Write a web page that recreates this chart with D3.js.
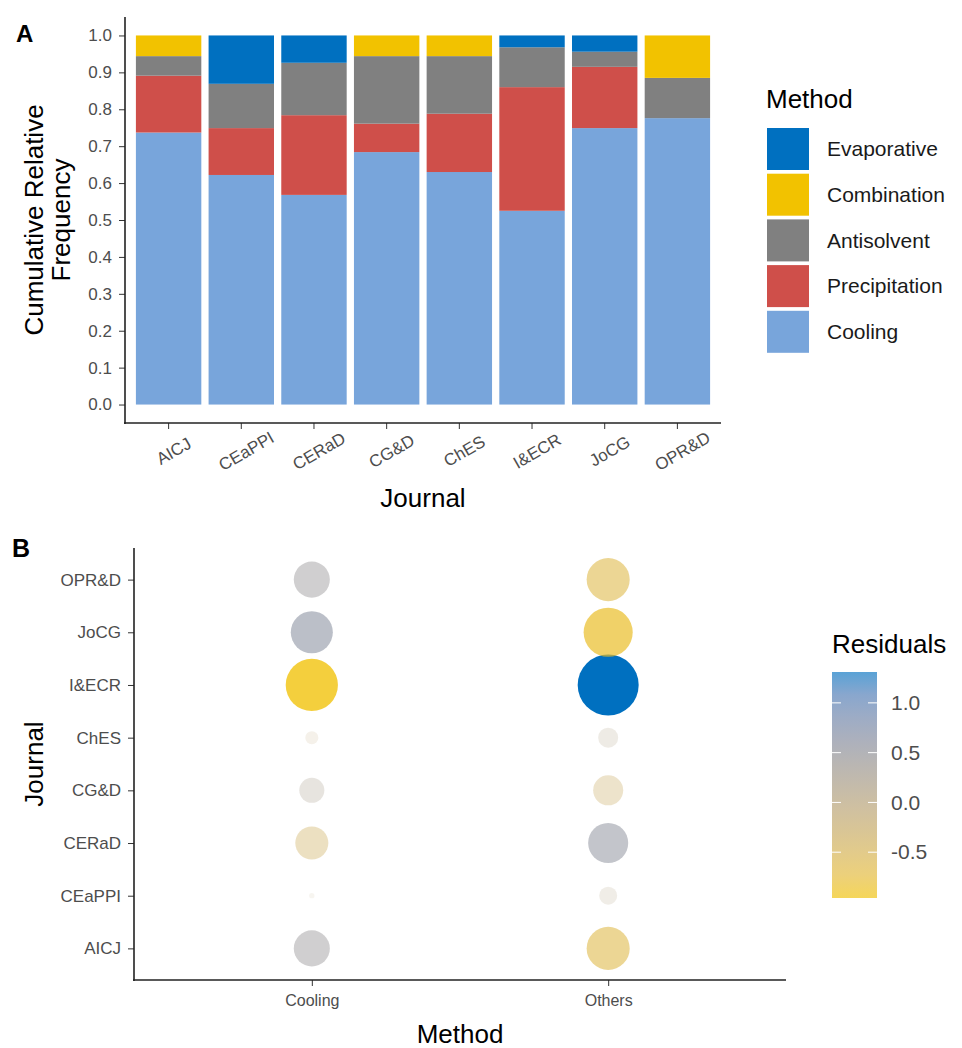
<!DOCTYPE html>
<html lang="en">
<head>
<meta charset="UTF-8">
<title>Crystallization methods by journal</title>
<style>
  * { box-sizing: border-box; }
  body { margin: 0; background: #fff; font-family: 'Liberation Sans', Arial, sans-serif; }
  .tick text { fill: #4d4d4d; }
</style>
</head>
<body>
<div id="chart"></div>
<script src="https://cdn.jsdelivr.net/npm/d3@7"></script>
<script>
// ---- data ----
var journals = ["AICJ", "CEaPPI", "CERaD", "CG&D", "ChES", "I&ECR", "JoCG", "OPR&D"];
var methods = ["Cooling", "Precipitation", "Antisolvent", "Combination", "Evaporative"]; // stack order, bottom -> top
var legendOrder = ["Evaporative", "Combination", "Antisolvent", "Precipitation", "Cooling"];
var methodColors = ["#78a5db", "#cf4f4a", "#808080", "#f2c200", "#0070c0"];

var cooling       = [0.737, 0.622, 0.568, 0.684, 0.630, 0.525, 0.749, 0.776];
var precipitation = [0.154, 0.127, 0.216, 0.077, 0.158, 0.335, 0.166, 0.000];
var antisolvent   = [0.053, 0.120, 0.142, 0.183, 0.156, 0.108, 0.041, 0.109];
var combination   = [0.056, 0.000, 0.000, 0.056, 0.056, 0.000, 0.000, 0.115];
var evaporative   = [0.000, 0.131, 0.074, 0.000, 0.000, 0.032, 0.044, 0.000];
var freqTicks = [0, 0.1, 0.2, 0.3, 0.4, 0.5, 0.6, 0.7, 0.8, 0.9, 1.0];

var residMethods = ["Cooling", "Others"];
var residCooling = [0.458, -0.010, -0.385, 0.221, -0.060, -0.960, 0.623, 0.458];
var residOthers  = [-0.653, 0.114, 0.565, -0.318, 0.141, 1.310, -0.848, -0.653];
var residTicks = [-0.5, 0.0, 0.5, 1.0];

var W = 962, H = 1048;
var svg = d3.select('#chart').append('svg').attr('width', W).attr('height', H);

// ================= Panel A =================
var rows = journals.map(function (j, i) {
  return { journal: j, Cooling: cooling[i], Precipitation: precipitation[i], Antisolvent: antisolvent[i],
           Combination: combination[i], Evaporative: evaporative[i] };
});
var stacked = d3.stack().keys(methods)(rows);
var color = d3.scaleOrdinal().domain(methods).range(methodColors);

var xA = d3.scaleBand().domain(journals).range([125, 721]).paddingInner(0.1).paddingOuter(0.15);
var yA = d3.scaleLinear().domain([-0.05, 1.05]).range([423, 17]);

var gA = svg.append('g');
gA.selectAll('g.layer').data(stacked).join('g').attr('class', 'layer')
  .attr('fill', function (d) { return color(d.key); })
  .selectAll('rect').data(function (d) { return d; }).join('rect')
  .attr('x', function (d) { return xA(d.data.journal); })
  .attr('width', xA.bandwidth())
  .attr('y', function (d) { return yA(d[1]); })
  .attr('height', function (d) { return yA(d[0]) - yA(d[1]); });

var yAxisA = gA.append('g').attr('transform', 'translate(125,0)')
  .call(d3.axisLeft(yA).tickValues(freqTicks).tickSize(6).tickPadding(7).tickFormat(function (d) { return d.toFixed(1); }));
yAxisA.select('.domain').remove();
yAxisA.selectAll('.tick line').attr('stroke', '#333');
yAxisA.selectAll('.tick text').style('font-size', '17px');

var xAxisA = gA.append('g').attr('transform', 'translate(0,423)')
  .call(d3.axisBottom(xA).tickSize(6).tickPadding(0));
xAxisA.select('.domain').remove();
xAxisA.selectAll('.tick line').attr('stroke', '#333');
xAxisA.selectAll('.tick text').style('font-size', '17px')
  .attr('text-anchor', 'middle').attr('dy', '0.35em')
  .attr('transform', 'translate(5,28) rotate(-30)').attr('y', 0);

gA.append('line').attr('x1', 125).attr('x2', 125).attr('y1', 17).attr('y2', 424).attr('stroke', '#222').attr('stroke-width', 1.6);
gA.append('line').attr('x1', 124).attr('x2', 721).attr('y1', 423).attr('y2', 423).attr('stroke', '#222').attr('stroke-width', 1.6);

svg.append('text').attr('x', 16).attr('y', 42).text('A').style('font-size', '24px').style('font-weight', 'bold');
var yTitle = svg.append('text').attr('transform', 'translate(0,220) rotate(-90)')
  .attr('text-anchor', 'middle').style('font-size', '26px');
yTitle.append('tspan').attr('x', 0).attr('y', 43).text('Cumulative Relative');
yTitle.append('tspan').attr('x', 0).attr('y', 70).text('Frequency');
svg.append('text').attr('x', 423).attr('y', 507).attr('text-anchor', 'middle').style('font-size', '26px').text('Journal');

// legend A
var legA = svg.append('g');
legA.append('text').attr('x', 766).attr('y', 108).style('font-size', '26px').text('Method');
var legItems = legA.selectAll('g.item').data(legendOrder).join('g').attr('class', 'item')
  .attr('transform', function (d, i) { return 'translate(767,' + (128 + i * 45.7) + ')'; });
legItems.append('rect').attr('width', 42).attr('height', 42).attr('fill', function (d) { return color(d); });
legItems.append('text').attr('x', 60).attr('y', 21).attr('dy', '0.35em').style('font-size', '21px').attr('fill', '#1a1a1a')
  .text(function (d) { return d; });

// ================= Panel B =================
var points = [];
journals.forEach(function (j, i) {
  points.push({ journal: j, method: 'Cooling', value: residCooling[i] });
  points.push({ journal: j, method: 'Others', value: residOthers[i] });
});
var rMin = d3.min(points, function (d) { return d.value; });
var rMax = d3.max(points, function (d) { return d.value; });
var absMax = d3.max(points, function (d) { return Math.abs(d.value); });

var xB = d3.scalePoint().domain(residMethods).range([134, 786]).padding(0.6);
var yB = d3.scalePoint().domain(journals.slice().reverse()).range([548, 980]).padding(0.6);
var rB = d3.scaleSqrt().domain([0, absMax]).range([0, 30.5]);
var fillB = d3.scaleLinear().domain([rMin, rMax]).range(['#f0c000', '#0070c0']).interpolate(d3.interpolateLab);
var alphaB = d3.scaleLinear().domain([0, absMax]).range([0.1, 1]);

var gB = svg.append('g');
gB.selectAll('circle').data(points).join('circle')
  .attr('cx', function (d) { return xB(d.method); })
  .attr('cy', function (d) { return yB(d.journal); })
  .attr('r', function (d) { return rB(Math.abs(d.value)); })
  .attr('fill', function (d) { return fillB(d.value); })
  .attr('fill-opacity', function (d) { return alphaB(Math.abs(d.value)); });

var yAxisB = gB.append('g').attr('transform', 'translate(134,0)')
  .call(d3.axisLeft(yB).tickSize(6).tickPadding(7));
yAxisB.select('.domain').remove();
yAxisB.selectAll('.tick line').attr('stroke', '#333');
yAxisB.selectAll('.tick text').style('font-size', '17px');

var xAxisB = gB.append('g').attr('transform', 'translate(0,980)')
  .call(d3.axisBottom(xB).tickSize(6).tickPadding(9));
xAxisB.select('.domain').remove();
xAxisB.selectAll('.tick line').attr('stroke', '#333');
xAxisB.selectAll('.tick text').style('font-size', '16px');

gB.append('line').attr('x1', 134).attr('x2', 134).attr('y1', 548).attr('y2', 981).attr('stroke', '#222').attr('stroke-width', 1.6);
gB.append('line').attr('x1', 133).attr('x2', 786).attr('y1', 980).attr('y2', 980).attr('stroke', '#222').attr('stroke-width', 1.6);

svg.append('text').attr('x', 12).attr('y', 557).text('B').style('font-size', '25px').style('font-weight', 'bold');
svg.append('text').attr('transform', 'translate(43,764) rotate(-90)').attr('text-anchor', 'middle')
  .style('font-size', '26px').text('Journal');
svg.append('text').attr('x', 460).attr('y', 1043).attr('text-anchor', 'middle').style('font-size', '26px').text('Method');

// colour bar
var cbY = d3.scaleLinear().domain([rMin, rMax]).range([898, 672]);
var defs = svg.append('defs');
var grad = defs.append('linearGradient').attr('id', 'residGrad').attr('x1', 0).attr('x2', 0).attr('y1', 1).attr('y2', 0);
d3.range(0, 1.0001, 0.1).forEach(function (t) {
  grad.append('stop').attr('offset', t).attr('stop-color', fillB(rMin + t * (rMax - rMin)));
});
var legB = svg.append('g');
legB.append('text').attr('x', 832).attr('y', 653).style('font-size', '26px').text('Residuals');
legB.append('rect').attr('x', 832).attr('y', 672).attr('width', 45).attr('height', 226)
  .attr('fill', 'url(#residGrad)').attr('opacity', 0.65);
var cbAxis = legB.append('g').attr('transform', 'translate(877,0)')
  .call(d3.axisRight(cbY).tickValues(residTicks).tickSize(0).tickPadding(14).tickFormat(function (d) { return d.toFixed(1); }));
cbAxis.select('.domain').remove();
cbAxis.selectAll('.tick text').style('font-size', '21px').attr('fill', '#333');
legB.selectAll('line.cbtick').data(residTicks).join('line').attr('class', 'cbtick')
  .attr('x1', 832).attr('x2', 841).attr('y1', function (d) { return cbY(d); }).attr('y2', function (d) { return cbY(d); })
  .attr('stroke', '#fff').attr('stroke-width', 1);
legB.selectAll('line.cbtick2').data(residTicks).join('line').attr('class', 'cbtick2')
  .attr('x1', 868).attr('x2', 877).attr('y1', function (d) { return cbY(d); }).attr('y2', function (d) { return cbY(d); })
  .attr('stroke', '#fff').attr('stroke-width', 1);
</script>
</body>
</html>
